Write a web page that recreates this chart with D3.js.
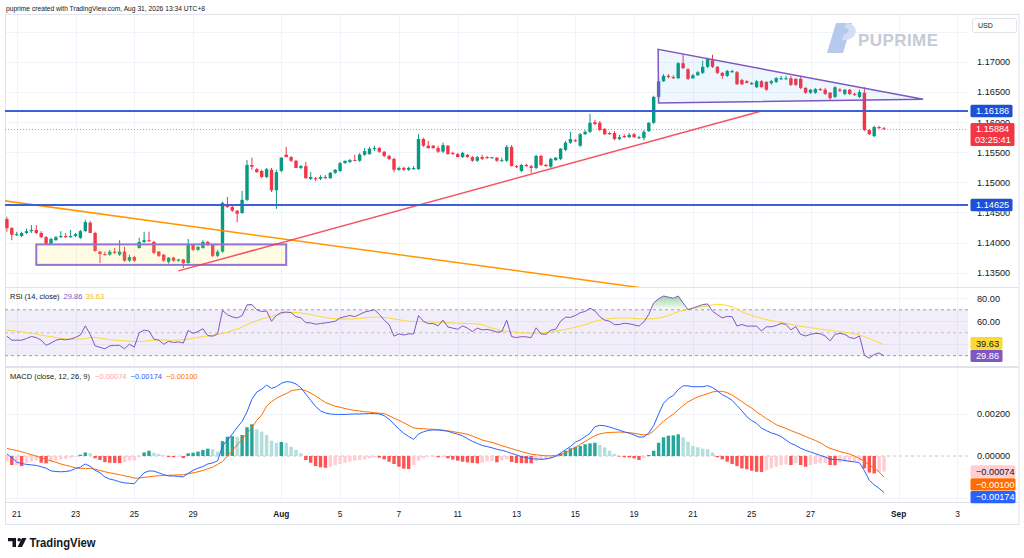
<!DOCTYPE html>
<html><head><meta charset="utf-8">
<script src="https://cdn.jsdelivr.net/npm/d3@7/dist/d3.min.js"></script>
<style>html,body{margin:0;padding:0;background:#fff;}svg{display:block;font-family:"Liberation Sans",Arial,sans-serif;}</style>
</head><body><svg id="c" width="1024" height="558"></svg>
<script>
// ---------------- DATA ----------------
// 4H candles: [open, high, low, close]
const candles = [
[1.1439,1.1443,1.1418,1.1424],[1.1424,1.1426,1.1404,1.1413],[1.1413,1.1418,1.1411,1.1414],[1.1411,1.1418,1.1409,1.1416],[1.1416,1.1423,1.1414,1.1419],
[1.1419,1.1429,1.1416,1.1421],[1.1421,1.1429,1.1414,1.1416],[1.1416,1.1419,1.1408,1.1409],[1.1409,1.1411,1.1396,1.1398],[1.1398,1.1408,1.1396,1.1406],
[1.1404,1.1411,1.1403,1.1409],[1.1409,1.1419,1.1408,1.1411],[1.1411,1.1416,1.1408,1.1409],[1.1409,1.1421,1.1408,1.1411],[1.1411,1.1416,1.1409,1.1414],
[1.1408,1.1421,1.1406,1.1419],[1.1419,1.1438,1.1418,1.1434],[1.1433,1.1436,1.1416,1.1416],[1.1416,1.1418,1.1385,1.1386],[1.1385,1.1386,1.1366,1.1381],
[1.1381,1.1385,1.1378,1.1380],[1.1380,1.1388,1.1378,1.1385],[1.1385,1.1391,1.1381,1.1383],[1.1380,1.1404,1.1378,1.1385],[1.1385,1.1393,1.1368,1.1370],
[1.1370,1.1380,1.1368,1.1376],[1.1376,1.1378,1.1368,1.1370],[1.1391,1.1408,1.1390,1.1401],[1.1401,1.1418,1.1399,1.1404],[1.1404,1.1418,1.1401,1.1403],
[1.1401,1.1403,1.1381,1.1383],[1.1385,1.1386,1.1376,1.1378],[1.1380,1.1381,1.1368,1.1370],[1.1368,1.1376,1.1365,1.1375],[1.1375,1.1376,1.1368,1.1370],
[1.1370,1.1373,1.1368,1.1372],[1.1372,1.1373,1.1358,1.1366],[1.1366,1.1406,1.1365,1.1396],[1.1396,1.1398,1.1386,1.1388],[1.1388,1.1394,1.1386,1.1393],
[1.1391,1.1404,1.1390,1.1401],[1.1401,1.1403,1.1394,1.1396],[1.1396,1.1398,1.1376,1.1378],[1.1378,1.1388,1.1376,1.1385],[1.1385,1.1468,1.1383,1.1466],
[1.1463,1.1476,1.1458,1.1459],[1.1459,1.1461,1.1451,1.1453],[1.1453,1.1454,1.1434,1.1448],[1.1449,1.1486,1.1448,1.1471],[1.1471,1.1537,1.1469,1.1529],
[1.1529,1.1541,1.1521,1.1526],[1.1522,1.1524,1.1516,1.1517],[1.1519,1.1521,1.1507,1.1509],[1.1509,1.1524,1.1507,1.1522],[1.1521,1.1524,1.1484,1.1487],
[1.1487,1.1521,1.1456,1.1517],[1.1519,1.1542,1.1517,1.1541],[1.1546,1.1559,1.1542,1.1542],[1.1542,1.1544,1.1534,1.1536],[1.1536,1.1537,1.1524,1.1524],
[1.1524,1.1529,1.1522,1.1527],[1.1527,1.1534,1.1506,1.1507],[1.1506,1.1517,1.1504,1.1509],[1.1507,1.1509,1.1502,1.1506],[1.1506,1.1512,1.1504,1.1509],
[1.1509,1.1512,1.1506,1.1507],[1.1507,1.1517,1.1506,1.1516],[1.1516,1.1522,1.1514,1.1521],[1.1519,1.1534,1.1517,1.1532],[1.1532,1.1536,1.1531,1.1536],
[1.1534,1.1539,1.1532,1.1537],[1.1537,1.1546,1.1536,1.1536],[1.1536,1.1549,1.1534,1.1546],[1.1546,1.1557,1.1544,1.1552],[1.1547,1.1559,1.1546,1.1556],
[1.1556,1.1561,1.1552,1.1557],[1.1557,1.1559,1.1549,1.1551],[1.1551,1.1552,1.1542,1.1544],[1.1544,1.1546,1.1537,1.1539],[1.1539,1.1541,1.1517,1.1521],
[1.1521,1.1526,1.1519,1.1524],[1.1524,1.1526,1.1519,1.1521],[1.1521,1.1526,1.1519,1.1524],[1.1522,1.1527,1.1521,1.1524],[1.1522,1.1580,1.1521,1.1572],
[1.1572,1.1574,1.1559,1.1561],[1.1561,1.1569,1.1556,1.1557],[1.1561,1.1562,1.1556,1.1557],[1.1557,1.1561,1.1549,1.1551],[1.1551,1.1566,1.1549,1.1562],
[1.1561,1.1562,1.1546,1.1547],[1.1549,1.1551,1.1546,1.1547],[1.1547,1.1549,1.1542,1.1542],[1.1542,1.1551,1.1541,1.1549],[1.1546,1.1547,1.1541,1.1542],
[1.1542,1.1544,1.1534,1.1536],[1.1536,1.1544,1.1534,1.1542],[1.1542,1.1546,1.1537,1.1539],[1.1542,1.1544,1.1539,1.1541],[1.1541,1.1542,1.1539,1.1542],
[1.1541,1.1542,1.1534,1.1536],[1.1536,1.1541,1.1534,1.1537],[1.1536,1.1562,1.1534,1.1559],[1.1559,1.1562,1.1527,1.1527],[1.1527,1.1529,1.1524,1.1526],
[1.1519,1.1531,1.1517,1.1529],[1.1529,1.1531,1.1526,1.1527],[1.1527,1.1529,1.1516,1.1524],[1.1524,1.1546,1.1522,1.1544],[1.1544,1.1546,1.1527,1.1529],
[1.1529,1.1531,1.1526,1.1527],[1.1526,1.1541,1.1524,1.1539],[1.1537,1.1542,1.1536,1.1541],[1.1539,1.1557,1.1537,1.1556],[1.1554,1.1569,1.1552,1.1566],
[1.1566,1.1584,1.1564,1.1572],[1.1570,1.1572,1.1567,1.1569],[1.1561,1.1582,1.1559,1.1580],[1.1580,1.1587,1.1579,1.1584],[1.1584,1.1614,1.1582,1.1599],
[1.1600,1.1604,1.1595,1.1597],[1.1599,1.1602,1.1585,1.1587],[1.1589,1.1590,1.1579,1.1580],[1.1582,1.1584,1.1579,1.1580],[1.1582,1.1585,1.1570,1.1572],
[1.1572,1.1579,1.1570,1.1575],[1.1577,1.1580,1.1574,1.1575],[1.1575,1.1582,1.1574,1.1579],[1.1580,1.1582,1.1574,1.1575],[1.1574,1.1577,1.1572,1.1575],
[1.1574,1.1587,1.1570,1.1584],[1.1585,1.1600,1.1584,1.1599],[1.1599,1.1644,1.1597,1.1642],[1.1642,1.1673,1.1640,1.1668],[1.1668,1.1680,1.1667,1.1677],
[1.1677,1.1680,1.1673,1.1675],[1.1675,1.1678,1.1672,1.1673],[1.1673,1.1700,1.1672,1.1698],[1.1698,1.1712,1.1688,1.1690],[1.1688,1.1690,1.1670,1.1672],
[1.1673,1.1680,1.1672,1.1678],[1.1678,1.1685,1.1677,1.1683],[1.1682,1.1702,1.1680,1.1692],[1.1692,1.1707,1.1690,1.1705],[1.1703,1.1712,1.1690,1.1692],
[1.1692,1.1693,1.1680,1.1682],[1.1682,1.1683,1.1672,1.1677],[1.1677,1.1687,1.1675,1.1685],[1.1683,1.1687,1.1682,1.1685],[1.1683,1.1685,1.1662,1.1663],
[1.1670,1.1672,1.1662,1.1663],[1.1668,1.1670,1.1665,1.1665],[1.1663,1.1667,1.1662,1.1665],[1.1658,1.1670,1.1657,1.1668],[1.1668,1.1670,1.1658,1.1658],
[1.1667,1.1668,1.1652,1.1654],[1.1665,1.1670,1.1662,1.1668],[1.1667,1.1675,1.1665,1.1673],[1.1672,1.1677,1.1670,1.1673],[1.1672,1.1677,1.1670,1.1673],
[1.1673,1.1677,1.1660,1.1662],[1.1672,1.1673,1.1660,1.1662],[1.1672,1.1677,1.1655,1.1657],[1.1657,1.1658,1.1647,1.1649],[1.1649,1.1655,1.1647,1.1654],
[1.1649,1.1657,1.1647,1.1655],[1.1655,1.1657,1.1652,1.1654],[1.1654,1.1657,1.1645,1.1647],[1.1649,1.1650,1.1637,1.1640],[1.1642,1.1660,1.1640,1.1658],
[1.1654,1.1657,1.1650,1.1652],[1.1647,1.1655,1.1645,1.1654],[1.1654,1.1655,1.1645,1.1647],[1.1647,1.1649,1.1644,1.1645],[1.1642,1.1654,1.1640,1.1650],
[1.1649,1.1658,1.1585,1.1587],[1.1587,1.1589,1.1579,1.1580],[1.1577,1.1594,1.1575,1.1592],[1.1592,1.1594,1.1589,1.1590],[1.1590,1.1592,1.1587,1.15884]
];
const rsi = [47,43.5,43.5,43.5,45,46.7,45.8,43.5,39,41, 43.5,44.4,43.8,44.5,46,48,56,48.6,38.6,37.3,
36,38.6,39,39,36,40,37.5,50,52.3,51.5, 44.4,43.5,40,42.5,41.5,42,41,52,49.5,51,
53.5,47.5,47,49,69.4,65.7,63.8,62.9,64.9,74.3, 74.6,70,68.5,69,60,65,67.6,68,67.5,64,
63,58.8,58.6,57.4,58,58.6,59.2,60,62.9,64, 65,64,66,68,69,70,66,61,57,47,
49,48,49,49,65,60,58,58,56,61, 55,54,53,56,54,51,54,52.5,52.9,52,
50.6,50.9,60.9,46.6,45.8,46.6,46.4,45.8,54.3,49, 48.6,52.3,53,60,63.5,63.4,65,67.5,68.5,71.4,
69,64,61,60,57,57.2,58.2,57.8,56.8,55.8, 59.5,66,76,79.5,82,81,80,82,76,70,
71.5,73,74.5,75.1,68.8,65.7,62.9,64.3,64,55.8, 57.2,55.8,55.8,55.8,51.5,55.2,55.2,56.3,58,57.3,
52.5,55.2,48.6,47.2,48.6,49.5,49.2,47.2,42.9,48.6, 49.5,48.6,45.8,45,47.2,30.5,27.8,31,32.4,29.86];
const rsiMA = [52.2,51.8,51.3,50.8,50.1,49.5,48.8,48.0,47.2,46.5, 45.8,45.1,44.6,44.4,44.4,44.5,45.0,45.6,45.8,45.3,
44.6,44.0,43.6,43.3,43.0,42.7,42.4,42.3,42.6,43.2, 43.6,43.8,43.7,43.5,43.5,43.6,43.8,44.3,45.2,46.0,
46.6,47.2,47.8,48.4,49.3,50.4,51.7,53.2,55.0,57.0, 59.0,60.5,62.0,63.2,64.3,65.5,66.6,67.5,67.8,67.6,
67.2,66.5,65.8,64.9,64.0,63.2,62.6,62.2,62.0,61.9, 62.0,62.2,62.5,62.9,63.3,63.6,63.6,63.3,62.8,62.0,
61.3,60.6,60.0,59.8,59.7,59.6,59.5,59.3,59.1,58.9, 58.7,58.5,58.3,58.2,58.0,57.8,57.6,57.0,55.5,54.0,
53.0,52.0,51.3,50.9,50.5,50.0,49.7,49.5,49.6,49.8, 50.2,50.7,51.3,52.0,52.9,53.8,54.8,55.8,57.0,58.5,
60.0,61.0,61.8,62.4,62.7,62.9,62.9,62.8,62.4,62.1, 62.1,62.0,62.2,62.8,63.7,65.0,66.8,68.3,69.5,70.4,
71.3,72.1,72.8,73.5,74.3,74.8,74.5,73.6,72.4,70.9, 68.4,66.5,65.0,63.8,62.6,61.5,60.5,59.8,59.0,58.2,
57.3,56.4,55.7,55.0,54.4,53.8,53.2,52.6,52.0,51.5, 51.0,50.5,50.0,49.0,48.0,46.6,45.0,43.2,41.4,39.63];
const macdLine = [0.00010,-0.00008,-0.00029,-0.00036,-0.00040,-0.00042,-0.00045,-0.00051,-0.00058,-0.00071,
-0.00074,-0.00075,-0.00074,-0.00070,-0.00060,-0.00053,-0.00038,-0.00049,-0.00068,-0.00080,
-0.00100,-0.00110,-0.00115,-0.00123,-0.00128,-0.00130,-0.00132,-0.00105,-0.00080,-0.00071,
-0.00072,-0.00080,-0.00089,-0.00095,-0.00095,-0.00097,-0.00099,-0.00083,-0.00068,-0.00058,
-0.00050,-0.00038,-0.00033,-0.00023,0.00048,0.00075,0.00105,0.00136,0.00165,0.00210,
0.00270,0.00305,0.00318,0.00338,0.00322,0.00330,0.00346,0.00354,0.00352,0.00343,
0.00325,0.00295,0.00265,0.00236,0.00215,0.00205,0.00200,0.00198,0.00198,0.00198,
0.00199,0.00200,0.00200,0.00201,0.00202,0.00202,0.00200,0.00192,0.00175,0.00152,
0.00128,0.00108,0.00093,0.00079,0.00105,0.00115,0.00122,0.00124,0.00124,0.00121,
0.00118,0.00110,0.00104,0.00096,0.00082,0.00070,0.00060,0.00050,0.00045,0.00039,
0.00032,0.00027,0.00021,0.00012,0.00005,-0.00003,-0.00008,-0.00013,-0.00014,-0.00016,
-0.00014,-0.00009,-0.00002,0.00014,0.00030,0.00045,0.00066,0.00076,0.00092,0.00108,
0.00140,0.00146,0.00144,0.00138,0.00130,0.00123,0.00115,0.00109,0.00100,0.00090,
0.00091,0.00110,0.00145,0.00200,0.00251,0.00275,0.00288,0.00316,0.00334,0.00334,
0.00330,0.00330,0.00330,0.00335,0.00326,0.00310,0.00292,0.00280,0.00265,0.00240,
0.00215,0.00187,0.00169,0.00155,0.00133,0.00121,0.00110,0.00103,0.00093,0.00076,
0.00060,0.00050,0.00037,0.00027,0.00019,0.00011,0.00003,-0.00005,-0.00015,-0.00017,
-0.00018,-0.00021,-0.00026,-0.00028,-0.00032,-0.00070,-0.00116,-0.00137,-0.00154,-0.00174];
const signalLine = [0.00036,0.00031,0.00026,0.00020,0.00013,0.00006,-0.00001,-0.00008,-0.00016,-0.00023,
-0.00030,-0.00038,-0.00044,-0.00050,-0.00056,-0.00059,-0.00059,-0.00059,-0.00063,-0.00069,
-0.00075,-0.00080,-0.00085,-0.00089,-0.00094,-0.00099,-0.00105,-0.00105,-0.00102,-0.00099,
-0.00096,-0.00094,-0.00093,-0.00092,-0.00091,-0.00090,-0.00089,-0.00084,-0.00080,-0.00075,
-0.00069,-0.00061,-0.00053,-0.00040,-0.00027,0.00000,0.00025,0.00054,0.00080,0.00108,
0.00135,0.00170,0.00195,0.00238,0.00259,0.00275,0.00287,0.00297,0.00310,0.00315,
0.00317,0.00311,0.00300,0.00286,0.00270,0.00255,0.00246,0.00237,0.00232,0.00226,
0.00221,0.00217,0.00214,0.00211,0.00209,0.00206,0.00204,0.00202,0.00192,0.00180,
0.00170,0.00158,0.00146,0.00134,0.00131,0.00130,0.00128,0.00127,0.00125,0.00123,
0.00120,0.00116,0.00112,0.00108,0.00103,0.00095,0.00086,0.00076,0.00070,0.00065,
0.00057,0.00049,0.00042,0.00035,0.00028,0.00021,0.00015,0.00009,0.00006,0.00003,
0.00001,0.00001,0.00003,0.00006,0.00015,0.00028,0.00040,0.00056,0.00069,0.00083,
0.00097,0.00105,0.00110,0.00112,0.00113,0.00114,0.00113,0.00111,0.00108,0.00104,
0.00100,0.00103,0.00120,0.00144,0.00165,0.00183,0.00199,0.00220,0.00240,0.00258,
0.00270,0.00282,0.00289,0.00297,0.00305,0.00308,0.00308,0.00302,0.00290,0.00275,
0.00259,0.00243,0.00228,0.00210,0.00194,0.00178,0.00165,0.00149,0.00140,0.00131,
0.00121,0.00112,0.00103,0.00093,0.00083,0.00074,0.00063,0.00048,0.00036,0.00029,
0.00021,0.00015,0.00009,0.00000,-0.00012,-0.00025,-0.00043,-0.00057,-0.00076,-0.00100];
const histogram = [-0.00027,-0.00043,-0.00043,-0.00048,-0.00032,-0.00027,-0.00022,-0.00032,-0.00035,-0.00027,
-0.00022,-0.00016,-0.00013,-0.00008,-0.00003,0.00006,0.00017,0.00013,-0.00011,-0.00019,
-0.00029,-0.00032,-0.00033,-0.00034,-0.00030,-0.00022,-0.00021,-0.00006,0.00017,0.00025,
0.00016,0.00010,0.00003,-0.00005,-0.00006,-0.00003,-0.00010,0.00013,0.00016,0.00021,
0.00029,0.00035,0.00032,0.00021,0.00071,0.00092,0.00094,0.00090,0.00100,0.00137,
0.00151,0.00127,0.00116,0.00100,0.00073,0.00063,0.00067,0.00063,0.00044,0.00029,
0.00013,-0.00019,-0.00032,-0.00048,-0.00054,-0.00056,-0.00051,-0.00044,-0.00038,-0.00032,
-0.00027,-0.00022,-0.00019,-0.00016,-0.00011,-0.00006,-0.00008,-0.00016,-0.00027,-0.00038,
-0.00051,-0.00060,-0.00062,-0.00044,-0.00022,-0.00011,-0.00002,-0.00001,-0.00006,-0.00005,
-0.00011,-0.00017,-0.00022,-0.00027,-0.00030,-0.00033,-0.00035,-0.00032,-0.00026,-0.00024,
-0.00030,-0.00020,-0.00016,-0.00028,-0.00033,-0.00034,-0.000345,-0.00035,-0.00024,-0.00019,
-0.00015,-0.00012,-0.00005,0.00013,0.00025,0.00037,0.00044,0.00048,0.00056,0.00060,
0.00063,0.00052,0.00041,0.00025,0.00010,-0.00002,-0.00006,-0.000065,-0.00011,-0.00019,
-0.00009,0.00005,0.00025,0.00063,0.00089,0.00097,0.00098,0.00103,0.00089,0.00068,
0.00048,0.00042,0.00035,0.00032,0.00017,-0.00006,-0.00016,-0.00027,-0.00038,-0.00048,
-0.00059,-0.00063,-0.00070,-0.00075,-0.00076,-0.00068,-0.00059,-0.00051,-0.00043,-0.00040,
-0.00043,-0.00035,-0.00043,-0.00051,-0.00043,-0.00038,-0.00035,-0.00034,-0.00043,-0.00044,
-0.00032,-0.00027,-0.00026,-0.00025,-0.00024,-0.00059,-0.00079,-0.00083,-0.00076,-0.00074];

const timeLabels = ["21","23","25","29","Aug","5","7","11","13","15","19","21","25","27","Sep","3"];
const timeLabelDay = [0,2,4,6,9,11,13,15,17,19,21,23,25,27,30,32];   // trading-day number from Jul 21
const monthLabels = ["Aug","Sep"];
const barsPerDay = 6, firstDayBar = 2;
const priceTicks = [1.135,1.140,1.145,1.150,1.155,1.160,1.165,1.170,1.175];
const rsiTicks = [80,60];
const rsiGrid = [80,60,40];
const macdTicks = [0.002,0];
const macdGrid = [0.002,-0.002];

const levels = [1.16186, 1.14625];
const lastPrice = 1.15884, countdown = "03:25:41";
const orangeTrend = [[-1,1.1470],[133,1.1321]];
const redTrend = [[35,1.1353],[154,1.16186]];
const rangeBox = {i0:6, i1:57, p0:1.1397, p1:1.1363};
const triangle = [[132.9,1.1721],[133,1.1632],[187,1.1638]];
const lastRSI = 29.86, lastRSIMA = 39.63;
const lastHist = -0.00074, lastMACD = -0.00174, lastSignal = -0.00100;

// ---------------- LAYOUT ----------------
const svg = d3.select('#c');
const plotL = 5, plotR = 968, frameR = 1019;
const mainP = {top:15, bottom:287}, rsiP = {top:288, bottom:366}, macdP = {top:368, bottom:502};
const x = d3.scaleLinear().domain([0,196]).range([6.9,967.3]);
const y = d3.scaleLinear().domain([1.135,1.17]).range([272.7,62]);
const yR = d3.scaleLinear().domain([30,80]).range([355.7,298.3]);
const yM = d3.scaleLinear().domain([0,0.002]).range([456,414]);
const UP='#089981', DN='#f23645', GRID='#f0f3fa', TXT='#131722';
const fmtM = v => (v<0?'\u2212':'') + Math.abs(v).toFixed(5);

svg.append('rect').attr('width',1024).attr('height',558).attr('fill','#fff');
const defs = svg.append('defs');
function clip(id, p){ defs.append('clipPath').attr('id',id).append('rect').attr('x',plotL).attr('y',p.top).attr('width',plotR-plotL).attr('height',p.bottom-p.top); }
clip('cMain',mainP); clip('cRsi',rsiP); clip('cMacd',macdP);

// grid
const grid = svg.append('g');
const tickIdx = timeLabelDay.map(d => firstDayBar + barsPerDay*d);
[mainP,rsiP,macdP].forEach(p=>{
  grid.selectAll(null).data(tickIdx).join('line')
    .attr('x1',d=>Math.round(x(d))+0.5).attr('x2',d=>Math.round(x(d))+0.5)
    .attr('y1',p.top).attr('y2',p.bottom).attr('stroke',GRID);
});
grid.selectAll(null).data(priceTicks).join('line').attr('x1',plotL).attr('x2',plotR)
  .attr('y1',d=>Math.round(y(d))+0.5).attr('y2',d=>Math.round(y(d))+0.5).attr('stroke',GRID);
grid.selectAll(null).data(rsiGrid).join('line').attr('x1',plotL).attr('x2',plotR)
  .attr('y1',d=>Math.round(yR(d))+0.5).attr('y2',d=>Math.round(yR(d))+0.5).attr('stroke',GRID);
grid.selectAll(null).data(macdGrid).join('line').attr('x1',plotL).attr('x2',plotR)
  .attr('y1',d=>Math.round(yM(d))+0.5).attr('y2',d=>Math.round(yM(d))+0.5).attr('stroke',GRID);

// frame & separators
svg.append('rect').attr('x',5.5).attr('y',14.5).attr('width',frameR-5.5).attr('height',510).attr('fill','none').attr('stroke','#e0e3eb');
[[287.5,1],[367,2],[502.5,1]].forEach(([yy,w])=>svg.append('line').attr('x1',5).attr('x2',frameR).attr('y1',yy).attr('y2',yy).attr('stroke','#e0e3eb').attr('stroke-width',w));

// watermark
const wm = svg.append('g');
wm.append('path').attr('d','M836,23 L852,23 L843,53 L827,53 Z').attr('fill','#b7c9ec');
wm.append('path').attr('d','M846,23 C858,23 860,38 846,40 L842,40 L844,34 C850,34 850,28 845,28 Z').attr('fill','#d3def4');
wm.append('text').attr('x',858).attr('y',46).attr('font-size',17).attr('font-weight','bold').attr('fill','#c5cbd6').attr('textLength',80).text('PUPRIME');

// ---------------- MAIN PANE ----------------
const gMain = svg.append('g').attr('clip-path','url(#cMain)');
const bw = 3.4;
gMain.selectAll('line.wick').data(candles).join('line').attr('class','wick')
  .attr('x1',(d,i)=>x(i)).attr('x2',(d,i)=>x(i)).attr('y1',d=>y(d[1])).attr('y2',d=>y(d[2]))
  .attr('stroke',d=>d[3]>=d[0]?UP:DN).attr('stroke-width',1);
gMain.selectAll('rect.body').data(candles).join('rect').attr('class','body')
  .attr('x',(d,i)=>x(i)-bw/2).attr('width',bw)
  .attr('y',d=>y(Math.max(d[0],d[3]))).attr('height',d=>Math.max(1,Math.abs(y(d[0])-y(d[3]))))
  .attr('fill',d=>d[3]>=d[0]?UP:DN);

// drawings
gMain.append('rect').attr('x',x(rangeBox.i0)).attr('y',y(rangeBox.p0))
  .attr('width',x(rangeBox.i1)-x(rangeBox.i0)).attr('height',y(rangeBox.p1)-y(rangeBox.p0))
  .attr('fill','rgba(255,235,59,0.13)').attr('stroke','#9575cd').attr('stroke-width',2);
gMain.append('path').attr('d','M'+triangle.map(p=>x(p[0])+','+y(p[1])).join('L')+'Z')
  .attr('fill','rgba(33,150,243,0.08)').attr('stroke','#7e57c2').attr('stroke-width',1.5);
const ln = d3.line().x(p=>x(p[0])).y(p=>y(p[1]));
gMain.append('path').attr('d',ln(orangeTrend)).attr('stroke','#ff9800').attr('stroke-width',1.5).attr('fill','none');
gMain.append('path').attr('d',ln(redTrend)).attr('stroke','#f23645').attr('stroke-width',1.5).attr('fill','none').attr('opacity',0.85);
gMain.selectAll('line.lvl').data(levels).join('line').attr('class','lvl')
  .attr('x1',plotL).attr('x2',plotR).attr('y1',d=>y(d)).attr('y2',d=>y(d)).attr('stroke','#3d60d8').attr('stroke-width',2);
gMain.append('line').attr('x1',plotL).attr('x2',plotR).attr('y1',Math.round(y(lastPrice))+0.5).attr('y2',Math.round(y(lastPrice))+0.5)
  .attr('stroke',DN).attr('stroke-dasharray','1,2').attr('opacity',0.6);

// ---------------- RSI PANE ----------------
const gR = svg.append('g').attr('clip-path','url(#cRsi)');
gR.append('rect').attr('x',plotL).attr('width',plotR-plotL).attr('y',yR(70)).attr('height',yR(30)-yR(70)).attr('fill','rgba(126,87,194,0.1)');
[[70,0.7],[50,0.4],[30,0.7]].forEach(([v,o])=>gR.append('line').attr('x1',plotL).attr('x2',plotR).attr('y1',yR(v)).attr('y2',yR(v))
  .attr('stroke','#787b86').attr('stroke-dasharray','3,3').attr('opacity',o));
const gOB = defs.append('linearGradient').attr('id','gOB').attr('gradientUnits','userSpaceOnUse').attr('x1',0).attr('x2',0).attr('y1',yR(84)).attr('y2',yR(70));
gOB.append('stop').attr('offset',0).attr('stop-color','rgba(76,175,80,0.6)');
gOB.append('stop').attr('offset',1).attr('stop-color','rgba(76,175,80,0.03)');
const gOS = defs.append('linearGradient').attr('id','gOS').attr('gradientUnits','userSpaceOnUse').attr('x1',0).attr('x2',0).attr('y1',yR(30)).attr('y2',yR(16));
gOS.append('stop').attr('offset',0).attr('stop-color','rgba(255,82,82,0.03)');
gOS.append('stop').attr('offset',1).attr('stop-color','rgba(255,82,82,0.6)');
defs.append('clipPath').attr('id','cOB').append('rect').attr('x',plotL).attr('y',rsiP.top).attr('width',plotR-plotL).attr('height',yR(70)-rsiP.top);
defs.append('clipPath').attr('id','cOS').append('rect').attr('x',plotL).attr('y',yR(30)).attr('width',plotR-plotL).attr('height',rsiP.bottom-yR(30));
gR.append('path').attr('clip-path','url(#cOB)').attr('fill','url(#gOB)')
  .attr('d',d3.area().x((d,i)=>x(i)).y0(yR(70)).y1(d=>yR(d))(rsi));
gR.append('path').attr('clip-path','url(#cOS)').attr('fill','url(#gOS)')
  .attr('d',d3.area().x((d,i)=>x(i)).y0(yR(30)).y1(d=>yR(d))(rsi));
gR.append('path').attr('d',d3.line().x((d,i)=>x(i)).y(d=>yR(d))(rsiMA)).attr('fill','none').attr('stroke','#fdd835').attr('stroke-width',1);
gR.append('path').attr('d',d3.line().x((d,i)=>x(i)).y(d=>yR(d))(rsi)).attr('fill','none').attr('stroke','#7e57c2').attr('stroke-width',1);

// ---------------- MACD PANE ----------------
const gM = svg.append('g').attr('clip-path','url(#cMacd)');
gM.append('line').attr('x1',plotL).attr('x2',plotR).attr('y1',yM(0)).attr('y2',yM(0)).attr('stroke','#787b86').attr('stroke-dasharray','3,3').attr('opacity',0.45);
gM.selectAll('rect.h').data(histogram).join('rect').attr('class','h')
  .attr('x',(d,i)=>x(i)-bw/2).attr('width',bw)
  .attr('y',d=>Math.min(yM(0),yM(d))).attr('height',d=>Math.max(0.5,Math.abs(yM(d)-yM(0))))
  .attr('fill',(d,i)=>{const p=i>0?histogram[i-1]:d; return d>=0?(d>p?'#26a69a':'#b2dfdb'):(d<p?'#ff5252':'#ffcdd2');});
gM.append('path').attr('d',d3.line().x((d,i)=>x(i)).y(d=>yM(d))(signalLine)).attr('fill','none').attr('stroke','#ff6d00').attr('stroke-width',1);
gM.append('path').attr('d',d3.line().x((d,i)=>x(i)).y(d=>yM(d))(macdLine)).attr('fill','none').attr('stroke','#2962ff').attr('stroke-width',1);

// ---------------- TEXT / AXES ----------------
svg.append('text').attr('x',6).attr('y',10.5).attr('font-size',7.5).attr('fill',TXT).attr('textLength',199).attr('lengthAdjust','spacingAndGlyphs')
  .text('puprime created with TradingView.com, Aug 31, 2026 13:34 UTC+8');

const leg1 = svg.append('text').attr('x',10).attr('y',298.5).attr('font-size',7.5).attr('fill',TXT);
leg1.append('tspan').text('RSI (14, close)');
leg1.append('tspan').attr('dx',4).attr('fill','#7e57c2').text(lastRSI.toFixed(2));
leg1.append('tspan').attr('dx',3).attr('fill','#f2c230').text(lastRSIMA.toFixed(2));
const leg2 = svg.append('text').attr('x',10).attr('y',378.8).attr('font-size',7.5).attr('fill',TXT);
leg2.append('tspan').text('MACD (close, 12, 26, 9)');
leg2.append('tspan').attr('dx',5).attr('fill','#f8a5ae').text(fmtM(lastHist));
leg2.append('tspan').attr('dx',4).attr('fill','#2962ff').text(fmtM(lastMACD));
leg2.append('tspan').attr('dx',4).attr('fill','#ff6d00').text(fmtM(lastSignal));

// price-axis tag boxes (value markers) – computed first so tick labels can be trimmed under them
const TAG_H = 12.4;
const priceTags = levels.map(l=>({top:y(l)-TAG_H/2, bottom:y(l)+TAG_H/2}))
  .concat([{top:y(lastPrice)-6.2, bottom:y(lastPrice)-6.2+23}]);

const ax = svg.append('g').attr('font-size',9.2).attr('fill',TXT);
priceTicks.filter(p=>y(p)>40).forEach((p,k)=>{
  const cy = y(p), t0 = cy-4.5, t1 = cy+3.5;
  const hit = priceTags.find(tg => tg.bottom > t0 && tg.top < t1);
  const tx = ax.append('text').attr('x',977).attr('y',cy+3.3).text(p.toFixed(5));
  if (hit) {
    // only the part of the tick label outside the marker stays visible
    const id = 'tk'+k;
    const r = (cy < (hit.top+hit.bottom)/2) ? {y0:cy-12, y1:hit.top} : {y0:hit.bottom, y1:cy+12};
    defs.append('clipPath').attr('id',id).append('rect').attr('x',970).attr('width',50).attr('y',r.y0).attr('height',Math.max(0,r.y1-r.y0));
    tx.attr('clip-path','url(#'+id+')');
  }
});
ax.selectAll(null).data(rsiTicks).join('text').attr('x',977).attr('y',d=>yR(d)+3.3).text(d=>d.toFixed(2));
ax.selectAll(null).data(macdTicks).join('text').attr('x',977).attr('y',d=>yM(d)+3.3).text(d=>d.toFixed(5));

// USD box
svg.append('rect').attr('x',972.5).attr('y',18.5).attr('width',44).attr('height',14).attr('rx',2).attr('fill','#fff').attr('stroke','#e0e3eb');
svg.append('text').attr('x',978).attr('y',28.3).attr('font-size',7).attr('fill',TXT).text('USD');

function tag(cy, txt, bg, fg, w){ 
  svg.append('rect').attr('x',970.5).attr('y',cy-TAG_H/2).attr('width',w||42).attr('height',TAG_H).attr('rx',1.5).attr('fill',bg);
  svg.append('text').attr('x',976).attr('y',cy+3.3).attr('font-size',9.2).attr('fill',fg).text(txt);
}
levels.forEach(l=>tag(y(l), l.toFixed(5), '#1d4fd7', '#fff'));
// last price tag with countdown
svg.append('rect').attr('x',970.5).attr('y',y(lastPrice)-6.2).attr('width',44).attr('height',23).attr('rx',1.5).attr('fill',DN);
svg.append('text').attr('x',976).attr('y',y(lastPrice)+3.3).attr('font-size',9.2).attr('fill','#fff').text(lastPrice.toFixed(5));
svg.append('text').attr('x',975).attr('y',y(lastPrice)+14).attr('font-size',9.2).attr('fill','#fff').text(countdown);

// stacked value tags (resolve overlaps)
function stack(items, gap){ items.sort((a,b)=>a.y-b.y); for(let k=1;k<items.length;k++){ if(items[k].y<items[k-1].y+gap) items[k].y=items[k-1].y+gap; } return items; }
const rsiTags = [{y:yR(lastRSIMA),t:lastRSIMA.toFixed(2),bg:'#fdd835',fg:TXT},{y:yR(lastRSI),t:lastRSI.toFixed(2),bg:'#7e57c2',fg:'#fff'}];
rsiTags.sort((a,b)=>b.y-a.y); for(let k=1;k<rsiTags.length;k++){ if(rsiTags[k].y>rsiTags[k-1].y-12.6) rsiTags[k].y=rsiTags[k-1].y-12.6; }
rsiTags.forEach(d=>tag(d.y,d.t,d.bg,d.fg,32));
stack([{y:yM(lastHist),t:fmtM(lastHist),bg:'#ffcdd2',fg:TXT},{y:yM(lastSignal),t:fmtM(lastSignal),bg:'#ff6d00',fg:'#fff'},{y:yM(lastMACD),t:fmtM(lastMACD),bg:'#2962ff',fg:'#fff'}],12.8)
  .forEach(d=>tag(d.y,d.t,d.bg,d.fg,45));

// time axis
svg.append('g').selectAll('text').data(timeLabels).join('text')
  .attr('x',(d,i)=>x(tickIdx[i])).attr('y',517).attr('text-anchor','middle').attr('font-size',8.3)
  .attr('font-weight',d=>monthLabels.includes(d)?'bold':'normal').attr('fill',TXT).text(d=>d);

// TradingView logo
const lg = svg.append('g').attr('fill',TXT);
lg.append('path').attr('d','M8,538 H16 V547 H12.5 V541.2 H8 Z');
lg.append('circle').attr('cx',19.2).attr('cy',539.8).attr('r',1.8);
lg.append('path').attr('d','M22,538 H26.5 L22,547 H17.6 Z');
lg.append('text').attr('x',29.5).attr('y',546.5).attr('font-size',12).attr('font-weight','bold').attr('textLength',66).attr('lengthAdjust','spacingAndGlyphs').text('TradingView');
</script></body></html>
